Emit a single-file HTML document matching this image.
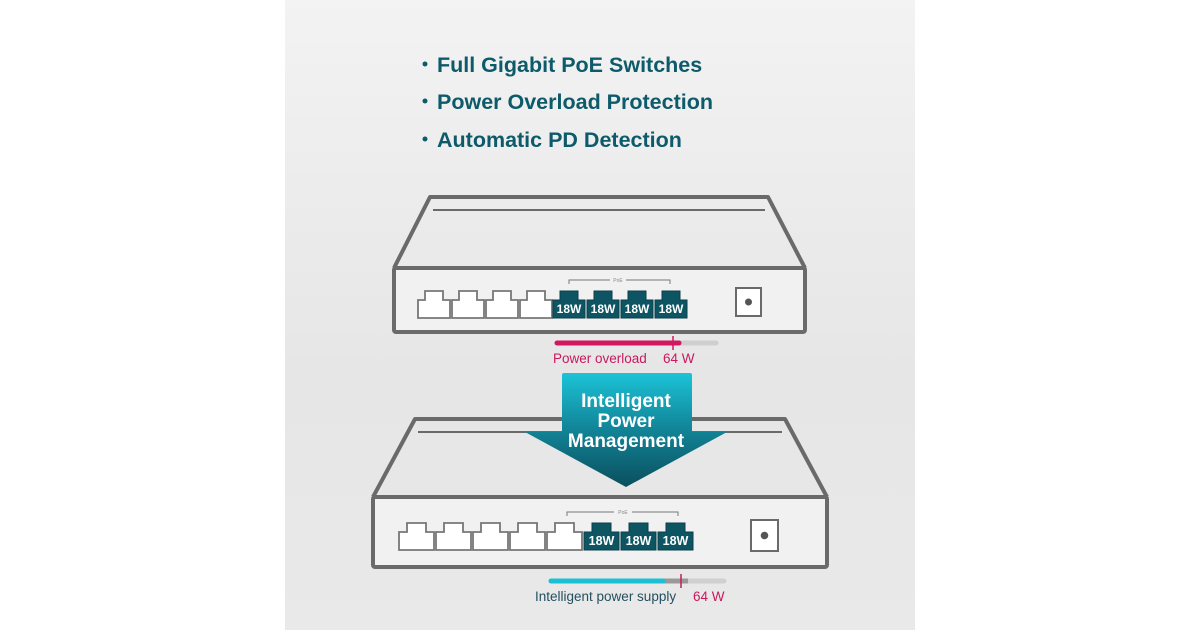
<!DOCTYPE html>
<html><head><meta charset="utf-8"><style>
html,body{margin:0;padding:0;background:#fff;width:1200px;height:630px;overflow:hidden}
svg{display:block}
text{font-family:"Liberation Sans",sans-serif}
</style></head><body>
<svg width="1200" height="630" viewBox="0 0 1200 630">
<defs>
<linearGradient id="bg" x1="0" y1="0" x2="0" y2="1">
<stop offset="0" stop-color="#f3f3f3"/><stop offset="0.3" stop-color="#ececec"/><stop offset="0.6" stop-color="#e6e6e6"/><stop offset="1" stop-color="#e9e9e9"/>
</linearGradient>
<linearGradient id="ar" x1="0" y1="0" x2="0" y2="1">
<stop offset="0" stop-color="#1cc3d8"/><stop offset="0.45" stop-color="#12899c"/><stop offset="1" stop-color="#0a4f5e"/>
</linearGradient>
<g id="wp"><path d="M0,10 H7 V1 H25 V10 H32 V28 H0 Z" fill="#fff" stroke="#777" stroke-width="1.8"/></g>
<g id="tp"><path d="M0,10 H7 V1 H25 V10 H32 V28 H0 Z" fill="#0e5564" stroke="#0b3f4a" stroke-width="1"/><text x="16" y="23" font-size="12" fill="#fff" text-anchor="middle" font-weight="bold">18W</text></g>
<g id="wp2"><path d="M0,10 H8 V1 H27 V10 H35 V28 H0 Z" fill="#fff" stroke="#777" stroke-width="1.8"/></g>
<g id="tp2"><path d="M0,10 H8 V1 H27 V10 H35 V28 H0 Z" fill="#0e5564" stroke="#0b3f4a" stroke-width="1"/><text x="17.5" y="23" font-size="12.5" fill="#fff" text-anchor="middle" font-weight="bold">18W</text></g>
</defs>
<rect x="285" y="0" width="630" height="630" fill="url(#bg)"/>
<!-- bullets -->
<g fill="#0d5b6a" font-size="21.5" font-weight="bold">
<circle cx="425" cy="64" r="2.5"/><text x="437" y="72">Full Gigabit PoE Switches</text>
<circle cx="425" cy="101" r="2.5"/><text x="437" y="109">Power Overload Protection</text>
<circle cx="425" cy="139" r="2.5"/><text x="437" y="147">Automatic PD Detection</text>
</g>
<!-- switch 1 -->
<g fill="none" stroke="#6a6a6a" stroke-width="4" stroke-linejoin="round">
<path d="M394,268 L430,197 H768 L805,268"/>
<line x1="433" y1="210" x2="765" y2="210" stroke-width="2"/>
<rect x="394" y="268" width="411" height="64" rx="2" fill="#f1f1f1"/>
</g>
<path d="M569,284 V280 H670 V284" fill="none" stroke="#777" stroke-width="1"/>
<rect x="610" y="277" width="16" height="6" fill="#f1f1f1"/>
<text x="618" y="282" font-size="5" fill="#888" text-anchor="middle">PoE</text>
<use href="#wp" x="418" y="290"/><use href="#wp" x="452" y="290"/><use href="#wp" x="486" y="290"/><use href="#wp" x="520" y="290"/>
<use href="#tp" x="553" y="290"/><use href="#tp" x="587" y="290"/><use href="#tp" x="621" y="290"/><use href="#tp" x="655" y="290"/>
<rect x="736" y="288" width="25" height="28" fill="#fff" stroke="#6a6a6a" stroke-width="2"/>
<circle cx="748.5" cy="302" r="3.5" fill="#555"/>
<line x1="557" y1="343" x2="716" y2="343" stroke="#cfcfcf" stroke-width="5" stroke-linecap="round"/>
<line x1="557" y1="343" x2="679" y2="343" stroke="#d3175e" stroke-width="5" stroke-linecap="round"/>
<line x1="673" y1="336" x2="673" y2="350" stroke="#d3175e" stroke-width="1.5"/>
<text x="553" y="363" font-size="13.5" fill="#c8195d">Power overload</text>
<text x="663" y="363" font-size="13.5" fill="#c8195d">64 W</text>
<!-- switch 2 -->
<g fill="none" stroke="#6a6a6a" stroke-width="4" stroke-linejoin="round">
<path d="M373,497 L415,419 H785 L827,497"/>
<line x1="418" y1="432" x2="782" y2="432" stroke-width="2"/>
<rect x="373" y="497" width="454" height="70" rx="2" fill="#f1f1f1"/>
</g>
<path d="M567,516 V512 H678 V516" fill="none" stroke="#777" stroke-width="1"/>
<rect x="614" y="509" width="18" height="6" fill="#f1f1f1"/>
<text x="623" y="514" font-size="5" fill="#888" text-anchor="middle">PoE</text>
<use href="#wp2" x="399" y="522"/><use href="#wp2" x="436" y="522"/><use href="#wp2" x="473" y="522"/><use href="#wp2" x="510" y="522"/><use href="#wp2" x="547" y="522"/>
<use href="#tp2" x="584" y="522"/><use href="#tp2" x="621" y="522"/><use href="#tp2" x="658" y="522"/>
<rect x="751" y="520" width="27" height="31" fill="#fff" stroke="#6a6a6a" stroke-width="2"/>
<circle cx="764.5" cy="535.5" r="3.8" fill="#555"/>
<line x1="551" y1="581" x2="724" y2="581" stroke="#d0d0d0" stroke-width="5" stroke-linecap="round"/>
<line x1="663" y1="581" x2="688" y2="581" stroke="#999" stroke-width="5"/>
<line x1="551" y1="581" x2="663" y2="581" stroke="#1cc0d5" stroke-width="5" stroke-linecap="round"/>
<line x1="681" y1="574" x2="681" y2="588" stroke="#c8195d" stroke-width="1.5"/>
<text x="535" y="601" font-size="13.5" fill="#234f5e">Intelligent power supply</text>
<text x="693" y="601" font-size="13.5" fill="#c8195d">64 W</text>
<!-- arrow -->
<path d="M564,373 H690 Q692,373 692,375 V432 H727 L626,487 L525,432 H562 V375 Q562,373 564,373 Z" fill="url(#ar)"/>
<g fill="#fff" font-size="19" font-weight="bold" text-anchor="middle">
<text x="626" y="407">Intelligent</text>
<text x="626" y="427">Power</text>
<text x="626" y="447">Management</text>
</g>
</svg>
</body></html>
